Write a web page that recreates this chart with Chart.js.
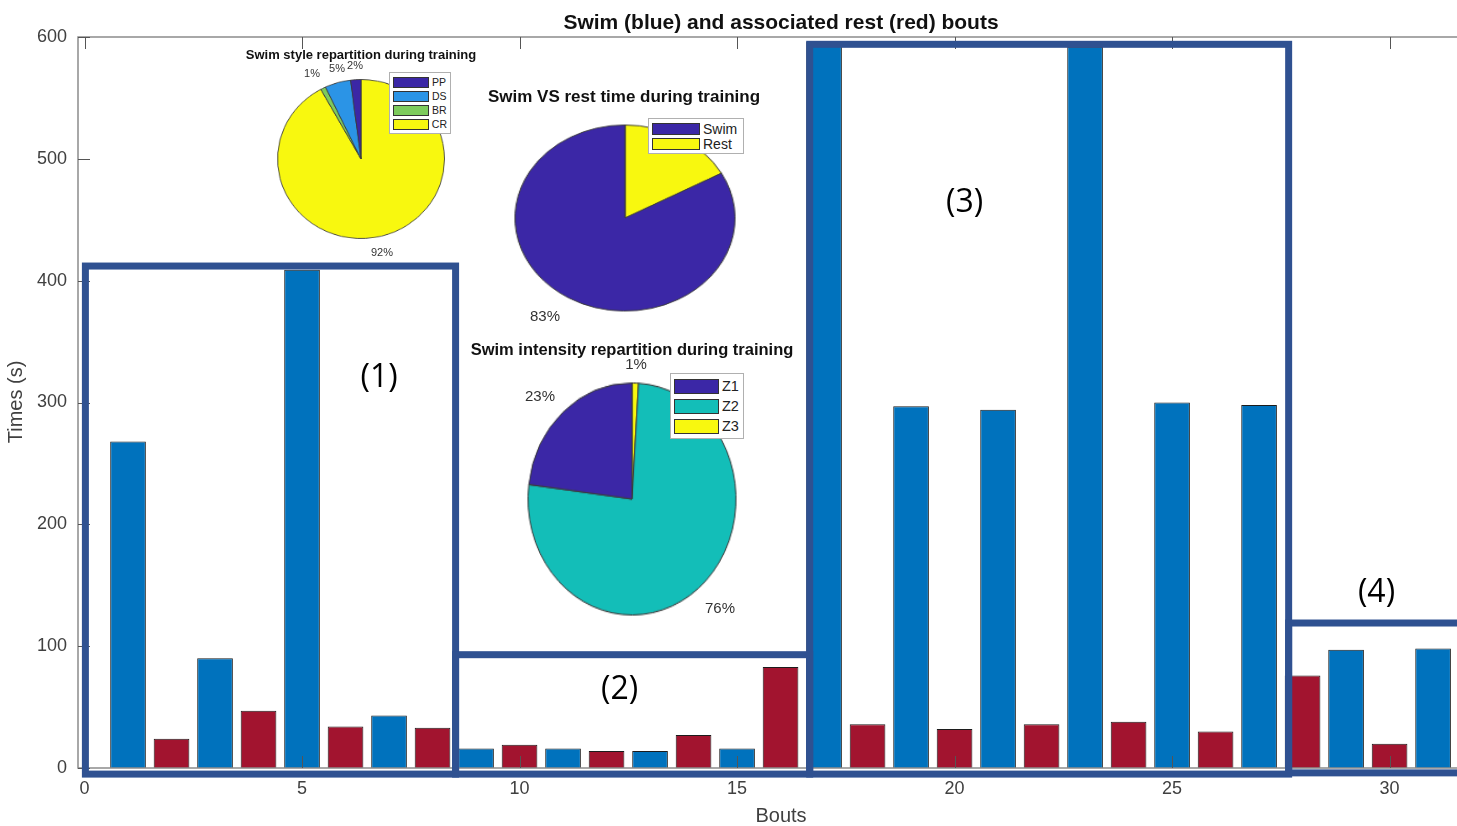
<!DOCTYPE html>
<html>
<head>
<meta charset="utf-8">
<script src="https://cdn.jsdelivr.net/npm/chart.js@4.4.0/dist/chart.umd.min.js"></script>
<style>
  html, body { margin: 0; padding: 0; background: #fff; }
  body { width: 1457px; height: 826px; position: relative; overflow: hidden; font-family: "Liberation Sans", Arial, sans-serif; }
  #mainWrap { position: absolute; left: 0; top: 0; width: 1457px; height: 826px; }
  .pie { position: absolute; width: 200px; height: 200px; }
  .ptitle { position: absolute; font-weight: bold; color: #111; white-space: nowrap; transform: translate(-50%, -50%); }
  .plabel { position: absolute; color: #333; white-space: nowrap; transform: translate(-50%, -50%); }
  .legend { position: absolute; background: #fff; border: 1px solid #b0b0b0; box-sizing: border-box; padding: 2px 3px; }
  .legend .row { display: flex; align-items: center; white-space: nowrap; color: #222; }
  .legend .sw { display: inline-block; border: 1px solid #333; box-sizing: border-box; margin-right: 3px; }
</style>
</head>
<body>
<div id="mainWrap"><canvas id="mainChart"></canvas></div>
<script>
// ── Bout data (seconds) ──────────────────────────────────────────────────
const swimBouts = [1, 3, 5, 7, 9, 11, 13, 15, 17, 19, 21, 23, 25, 27, 29, 31];
const swimTimes = [268, 90, 409, 43, 16, 16, 14, 16, 596, 297, 294, 592, 300, 298, 97, 98];
const restBouts = [2, 4, 6, 8, 10, 12, 14, 16, 18, 20, 22, 24, 26, 28, 30];
const restTimes = [24, 47, 34, 33, 19, 14, 27, 83, 36, 32, 36, 38, 30, 76, 20];

const xTickStep = 5;
const yTicks    = [0, 100, 200, 300, 400, 500, 600];

// ── Inset pies ───────────────────────────────────────────────────────────
const styleLabels = ['PP', 'DS', 'BR', 'CR'];
const stylePct    = [2, 5, 1, 92];
const restLabels  = ['Swim', 'Rest'];
const restPct     = [83, 17];
const zoneLabels  = ['Z1', 'Z2', 'Z3'];
const zonePct     = [23, 76, 1];

const PURPLE = '#3b27a6', YELLOW = '#f8f80f';
const styleColors = [PURPLE, '#2b94e6', '#7dcb5c', YELLOW];
const restColors  = [PURPLE, YELLOW];
const zoneColors  = [PURPLE, '#13beb8', YELLOW];

// highlighted groups: [x0, x1, y0, y1] in data units, with label position
const groups = [
  { box: [0.02, 8.53, -5, 412],   label: '(1)', at: [6.77, 320] },
  { box: [8.53, 16.67, -5, 93],   label: '(2)', at: [12.3, 64] },
  { box: [16.67, 27.68, -5, 594], label: '(3)', at: [20.23, 464] },
  { box: [27.68, 31.9, -4, 119],  label: '(4)', at: [29.7, 144] },
];

const FONT = '"Liberation Sans", Arial, sans-serif';

const overlay = {
  id: 'overlay',
  afterDatasetsDraw(chart) {
    const { ctx, chartArea: a, scales: { x, y } } = chart;
    ctx.save();
    // axes box (left, top, bottom)
    ctx.strokeStyle = '#8c8c8c'; ctx.lineWidth = 1.5;
    ctx.beginPath();
    ctx.moveTo(a.right, a.top); ctx.lineTo(a.left, a.top); ctx.lineTo(a.left, a.bottom); ctx.lineTo(a.right, a.bottom);
    ctx.stroke();
    // inward ticks
    ctx.strokeStyle = '#555'; ctx.lineWidth = 1;
    ctx.beginPath();
    for (const t of x.ticks) {
      const px = Math.round(x.getPixelForValue(t.value)) + 0.5;
      ctx.moveTo(px, a.bottom); ctx.lineTo(px, a.bottom - 12);
      ctx.moveTo(px, a.top);    ctx.lineTo(px, a.top + 12);
    }
    for (const t of y.ticks) {
      const py = Math.round(y.getPixelForValue(t.value)) + 0.5;
      ctx.moveTo(a.left, py); ctx.lineTo(a.left + 12, py);
    }
    ctx.stroke();
    // group boxes
    ctx.strokeStyle = '#2f5191'; ctx.lineWidth = 7;
    for (const g of groups) {
      const [x0, x1, y0, y1] = g.box;
      const l = x.getPixelForValue(x0), r = x.getPixelForValue(x1);
      const t = y.getPixelForValue(y1), b = y.getPixelForValue(y0);
      ctx.strokeRect(l, t, r - l, b - t);
    }
    ctx.fillStyle = '#000'; ctx.font = '32px "Open Sans", sans-serif';
    ctx.textAlign = 'center'; ctx.textBaseline = 'middle';
    for (const g of groups) ctx.fillText(g.label, x.getPixelForValue(g.at[0]), y.getPixelForValue(g.at[1]));
    // titles
    ctx.fillStyle = '#111'; ctx.font = 'bold 21px ' + FONT;
    ctx.fillText('Swim (blue) and associated rest (red) bouts', 781, 23);
    ctx.fillStyle = '#404040'; ctx.font = '20px ' + FONT;
    ctx.fillText('Bouts', 781, 816);
    ctx.translate(16, 402); ctx.rotate(-Math.PI / 2);
    ctx.fillText('Times (s)', 0, 0);
    ctx.restore();
  }
};

new Chart(document.getElementById('mainChart'), {
  type: 'bar',
  data: {
    datasets: [
      { label: 'Swim', data: swimBouts.map((b, i) => ({ x: b, y: swimTimes[i] })),
        backgroundColor: '#0072bd', borderColor: '#1c1c1c', borderWidth: 1, grouped: false,
        barPercentage: 0.82, categoryPercentage: 1 },
      { label: 'Rest', data: restBouts.map((b, i) => ({ x: b, y: restTimes[i] })),
        backgroundColor: '#a2142f', borderColor: '#1c1c1c', borderWidth: 1, grouped: false,
        barPercentage: 0.82, categoryPercentage: 1 }
    ]
  },
  options: {
    responsive: true, maintainAspectRatio: false, animation: false, events: [],
    layout: { padding: { top: 37, right: 0, bottom: 0, left: 0 } },
    plugins: { legend: { display: false }, tooltip: { enabled: false } },
    scales: {
      x: { type: 'linear', min: -0.15, max: 31.55, offset: false,
           afterFit: s => { s.height = 58; },
           grid: { display: false, drawTicks: false }, border: { display: false },
           ticks: { stepSize: xTickStep, includeBounds: false, padding: 10, color: '#404040',
                    font: { family: FONT, size: 18 } } },
      y: { min: yTicks[0], max: yTicks[yTicks.length - 1],
           afterFit: s => { s.width = 78; },
           grid: { display: false, drawTicks: false }, border: { display: false },
           ticks: { stepSize: 100, padding: 11, color: '#404040',
                    font: { family: FONT, size: 18 } } }
    }
  },
  plugins: [overlay]
});

// ── Pie insets (drawn counter-clockwise from 12 o'clock like the original) ──
function makePie(cx, cy, rx, ry, labels, values, colors) {
  const box = document.createElement('div');
  box.className = 'pie';
  box.style.left = (cx - 100) + 'px';
  box.style.top  = (cy - 100) + 'px';
  box.style.transform = `scale(${rx / 99.5}, ${ry / 99.5})`;
  const cv = document.createElement('canvas');
  box.appendChild(cv);
  document.body.appendChild(box);
  new Chart(cv, {
    type: 'pie',
    data: { labels: labels.slice().reverse(),
            datasets: [{ data: values.slice().reverse(), backgroundColor: colors.slice().reverse(),
                         borderColor: '#3a3a3a', borderWidth: 1, hoverOffset: 0 }] },
    options: { responsive: true, maintainAspectRatio: false, animation: false, events: [],
               plugins: { legend: { display: false }, tooltip: { enabled: false } } }
  });
}

function addText(cls, text, x, y, size) {
  const d = document.createElement('div');
  d.className = cls; d.textContent = text;
  d.style.left = x + 'px'; d.style.top = y + 'px'; d.style.fontSize = size + 'px';
  document.body.appendChild(d);
}

function addLegend(left, top, w, labels, colors, swW, swH, rowH, size) {
  const lg = document.createElement('div');
  lg.className = 'legend';
  lg.style.left = left + 'px'; lg.style.top = top + 'px'; lg.style.width = w + 'px';
  labels.forEach((lab, i) => {
    const row = document.createElement('div');
    row.className = 'row'; row.style.height = rowH + 'px'; row.style.fontSize = size + 'px';
    const sw = document.createElement('span');
    sw.className = 'sw'; sw.style.width = swW + 'px'; sw.style.height = swH + 'px'; sw.style.background = colors[i];
    row.appendChild(sw);
    row.appendChild(document.createTextNode(lab));
    lg.appendChild(row);
  });
  document.body.appendChild(lg);
}

// swim style
makePie(360.5, 158.5, 83.5, 79.5, styleLabels, stylePct, styleColors);
addText('ptitle', 'Swim style repartition during training', 361, 54, 13);
[[312, 73], [337, 68], [355, 65], [382, 252]].forEach(([px, py], k) => {
  const idx = [2, 1, 0, 3][k];
  addText('plabel', stylePct[idx] + '%', px, py, 11);
});
addLegend(389, 72, 62, styleLabels, styleColors, 36, 11, 14, 10.5);

// swim vs rest
makePie(625, 218, 110, 93, restLabels, restPct, restColors);
addText('ptitle', 'Swim VS rest time during training', 624, 97, 17);
addText('plabel', restPct[0] + '%', 545, 315, 15);
addLegend(648, 118, 96, restLabels, restColors, 48, 12, 15, 14);

// intensity zones
makePie(632, 499, 104, 116, zoneLabels, zonePct, zoneColors);
addText('ptitle', 'Swim intensity repartition during training', 632, 349, 16.5);
addText('plabel', zonePct[2] + '%', 636, 363, 15);
addText('plabel', zonePct[0] + '%', 540, 395, 15);
addText('plabel', zonePct[1] + '%', 720, 607, 15);
addLegend(670, 373, 74, zoneLabels, zoneColors, 45, 15, 20, 14.5);
</script>
</body>
</html>
